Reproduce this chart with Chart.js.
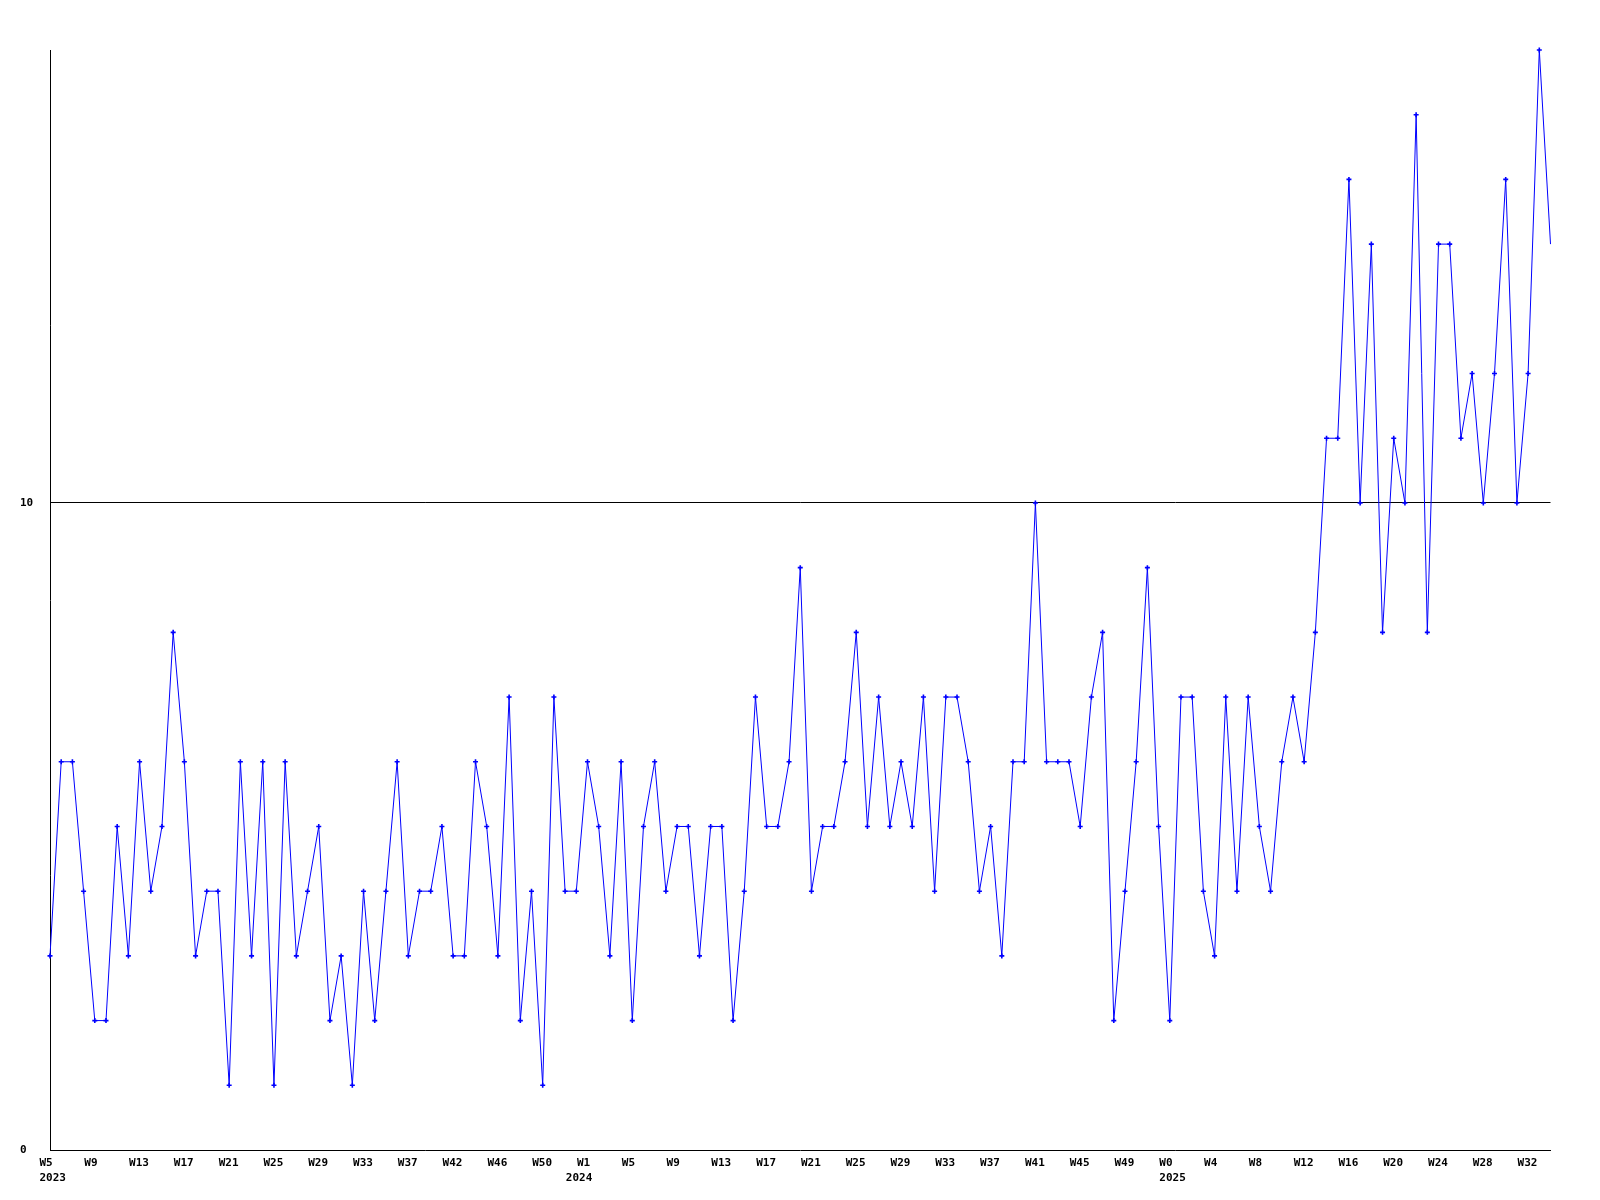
<!DOCTYPE html>
<html>
<head>
<meta charset="utf-8">
<script src="https://cdn.jsdelivr.net/npm/chart.js@4/dist/chart.umd.min.js"></script>
<style>
  html, body { margin: 0; padding: 0; background: #fff; }
  canvas { display: block; }
</style>
</head>
<body>
<canvas id="weekChart" width="1600" height="1200"></canvas>
<script>
// one value per week, 2023 W5 .. 2025 W34
const values = [
  3, 6, 6, 4, 2, 2, 5, 3, 6, 4, 5, 8, 6, 3, 4, 4, 1, 6, 3, 6,
  1, 6, 3, 4, 5, 2, 3, 1, 4, 2, 4, 6, 3, 4, 4, 5, 3, 3, 6, 5,
  3, 7, 2, 4, 1, 7, 4, 4, 6, 5, 3, 6, 2, 5, 6, 4, 5, 5, 3, 5,
  5, 2, 4, 7, 5, 5, 6, 9, 4, 5, 5, 6, 8, 5, 7, 5, 6, 5, 7, 4,
  7, 7, 6, 4, 5, 3, 6, 6, 10, 6, 6, 6, 5, 7, 8, 2, 4, 6, 9, 5,
  2, 7, 7, 4, 3, 7, 4, 7, 5, 4, 6, 7, 6, 8, 11, 11, 15, 10, 14, 8,
  11, 10, 16, 8, 14, 14, 11, 12, 10, 12, 15, 10, 12, 17, 14
];

// a week label on every 4th point
const weekTicks = [
  'W5', 'W9', 'W13', 'W17', 'W21', 'W25', 'W29', 'W33', 'W37', 'W42', 'W46', 'W50',
  'W1', 'W5', 'W9', 'W13', 'W17', 'W21', 'W25', 'W29', 'W33', 'W37', 'W41', 'W45', 'W49',
  'W0', 'W4', 'W8', 'W12', 'W16', 'W20', 'W24', 'W28', 'W32'
];
// year labels sit at the point where the year starts
const yearTickAt = [0, 47, 100];
const yearTicks = ['2023', '2024', '2025'];

const yTicks = [0, 10];
const yMax = 17;

const tickFont = { family: 'DejaVu Sans Mono', size: 11, weight: 'bold', lineHeight: '15px' };

new Chart(document.getElementById('weekChart').getContext('2d'), {
    type: 'line',
    data: {
        labels: values.map((v, i) => i),
        datasets: [{
            data: values,
            borderColor: '#0000ff',
            backgroundColor: '#0000ff',
            borderWidth: 1,
            tension: 0,
            pointStyle: 'cross',
            // last (running) week has no marker
            pointRadius: c => c.dataIndex === values.length - 1 ? 0 : 2.5,
            pointBorderWidth: 1.6,
            pointBackgroundColor: '#0000ff',
            pointBorderColor: '#0000ff',
            clip: false
        }]
    },
    options: {
        responsive: false,
        animation: false,
        devicePixelRatio: 1,
        layout: { padding: { left: 20, right: 49.5, top: 50, bottom: 0 } },
        plugins: { legend: { display: false }, tooltip: { enabled: false } },
        scales: {
            x: {
                offset: false,
                grid: { display: false },
                border: { display: true, color: '#000', width: 1 },
                afterFit: s => { s.height = 50; },
                ticks: {
                    autoSkip: false,
                    maxRotation: 0,
                    minRotation: 0,
                    align: 'start',
                    labelOffset: -10.5,
                    padding: -2.5,
                    color: '#000',
                    font: tickFont,
                    callback: (v, i) => {
                        const week = i % 4 === 0 ? weekTicks[i / 4] : '';
                        const y = yearTickAt.indexOf(i);
                        return y >= 0 ? [week, yearTicks[y]] : week;
                    }
                }
            },
            y: {
                min: 0,
                max: yMax,
                afterBuildTicks: s => { s.ticks = yTicks.map(v => ({ value: v })); },
                afterFit: s => { s.width = 30; },
                grid: {
                    drawTicks: false,
                    color: c => (c.tick && c.tick.value === 10) ? '#000' : 'rgba(0,0,0,0)',
                    lineWidth: 1
                },
                border: { display: true, color: '#000', width: 1 },
                ticks: {
                    crossAlign: 'far',
                    color: '#000',
                    font: tickFont
                }
            }
        }
    }
});
</script>
</body>
</html>
